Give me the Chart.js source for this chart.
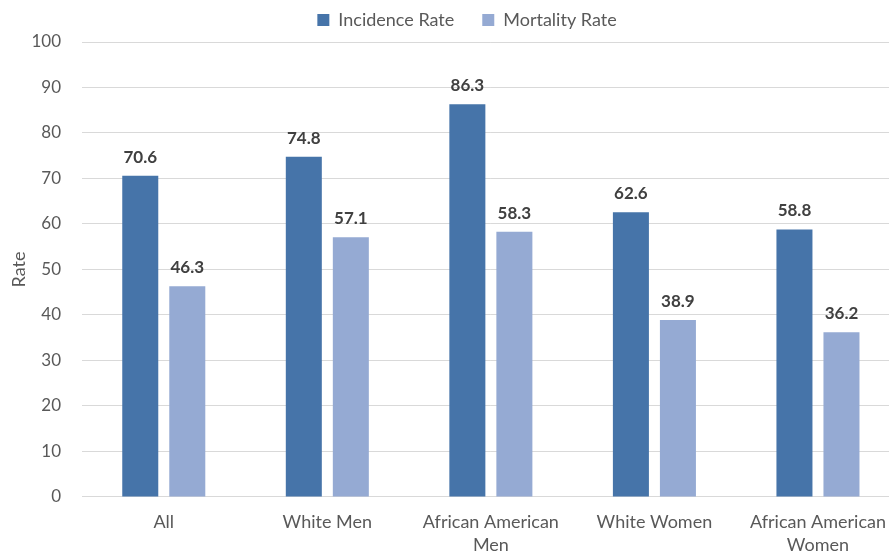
<!DOCTYPE html>
<html>
<head>
<meta charset="utf-8">
<script src="https://cdn.jsdelivr.net/npm/chart.js@4"></script>
<style>
  html, body { margin: 0; padding: 0; background: #fff; overflow: hidden; }
  #wrap { position: absolute; left: 0; top: 0; width: 900px; height: 552px; }
</style>
</head>
<body>
<div id="wrap"><canvas id="chart"></canvas></div>
<script>
const categories = ['All', 'White Men', ['African American', 'Men'], 'White Women', ['African American', 'Women']];
const incidence = [70.6, 74.8, 86.3, 62.6, 58.8];
const mortality = [46.3, 57.1, 58.3, 38.9, 36.2];
const yTicks = [0, 10, 20, 30, 40, 50, 60, 70, 80, 90, 100];

const FONT = 'Lato, "Open Sans", sans-serif';

// draws the value above each bar
const valueLabels = {
  id: 'valueLabels',
  afterDatasetsDraw(chart) {
    const ctx = chart.ctx;
    ctx.save();
    ctx.font = 'bold 17px ' + FONT;
    ctx.fillStyle = '#404040';
    ctx.textAlign = 'center';
    ctx.textBaseline = 'bottom';
    chart.data.datasets.forEach(function (ds, i) {
      chart.getDatasetMeta(i).data.forEach(function (bar, j) {
        ctx.fillText(ds.data[j].toFixed(1), bar.x, bar.y - 10);
      });
    });
    ctx.restore();
  }
};

// legend sits a bit right of the canvas centre in the original, and close to the top
const legendShift = {
  id: 'legendShift',
  afterLayout(chart) {
    chart.legend.left += 17;
    chart.legend.right += 17;
    chart.legend.top -= 3;
    chart.legend.bottom -= 3;
  }
};

new Chart(document.getElementById('chart'), {
  type: 'bar',
  data: {
    labels: categories,
    datasets: [
      { label: 'Incidence Rate', data: incidence, backgroundColor: '#4674A9', categoryPercentage: 0.575, barPercentage: 0.766 },
      { label: 'Mortality Rate', data: mortality, backgroundColor: '#95AAD3', categoryPercentage: 0.575, barPercentage: 0.766 }
    ]
  },
  options: {
    responsive: true,
    maintainAspectRatio: false,
    animation: false,
    layout: { padding: { top: -14, left: 0, right: 0, bottom: -19 } },
    plugins: {
      legend: {
        position: 'top',
        labels: {
          boxWidth: 12,
          boxHeight: 12,
          padding: 28,
          color: '#595959',
          font: { size: 18, family: FONT }
        }
      },
      tooltip: { enabled: false }
    },
    scales: {
      x: {
        grid: { display: false, drawTicks: false, tickLength: 0 },
        border: { color: '#d9d9d9', width: 1 },
        ticks: {
          color: '#595959',
          padding: 14,
          maxRotation: 0,
          autoSkip: false,
          font: { size: 18, family: FONT, lineHeight: 1.28 }
        }
      },
      y: {
        min: 0,
        max: 100,
        afterBuildTicks(axis) { axis.ticks = yTicks.map(v => ({ value: v })); },
        afterFit(axis) { axis.width = 82; },
        grid: { color: '#d9d9d9', drawTicks: false },
        border: { display: false },
        ticks: {
          color: '#595959',
          padding: 21,
          font: { size: 17, family: FONT }
        },
        title: {
          display: true,
          text: 'Rate',
          color: '#595959',
          padding: { top: 8, bottom: 0 },
          font: { size: 18, family: FONT }
        }
      }
    }
  },
  plugins: [valueLabels, legendShift]
});
</script>
</body>
</html>
